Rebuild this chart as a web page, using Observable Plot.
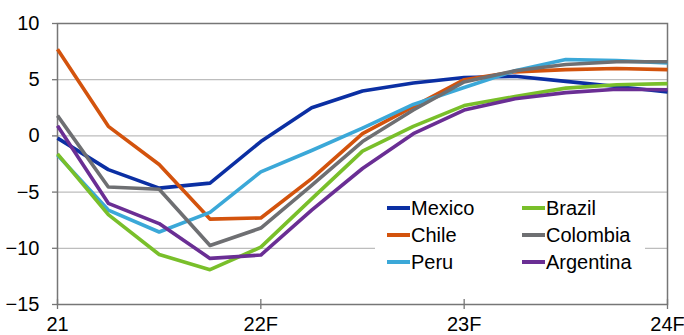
<!DOCTYPE html>
<html>
<head>
<meta charset="utf-8">
<script src="https://cdn.jsdelivr.net/npm/d3@7"></script>
<script src="https://cdn.jsdelivr.net/npm/@observablehq/plot@0.6"></script>
<style>
  html, body { margin: 0; padding: 0; background: #fff; }
  #wrap { position: relative; width: 684px; height: 335px; font-family: "Liberation Sans", Arial, sans-serif; color: #000; }
  #legend { position: absolute; left: 375px; top: 195px; width: 270px; height: 80px; background: #fff; }
  .item { position: absolute; display: flex; align-items: center; font-size: 20px; line-height: 20px; }
  .sw { width: 23px; height: 3.5px; margin-right: 1px; }
</style>
</head>
<body>
<div id="wrap"></div>
<script>
// Quarterly points from 21 to 24F (index 0..12)
const quarters = d3.range(0, 13);
const tickPositions = [0, 4, 8, 12];
const tickLabels = ["21", "22F", "23F", "24F"];
const yTicks = [-15, -10, -5, 0, 5, 10];

const series = ["Mexico", "Chile", "Peru", "Brazil", "Colombia", "Argentina"];
const colors = ["#0b2fa3", "#d3530d", "#3ba8d8", "#79bf2a", "#6e6f72", "#6a2e94"];

const mexico    = [-0.2, -3.0, -4.65, -4.2, -0.5, 2.5, 4.0, 4.7, 5.2, 5.3, 4.85, 4.4, 3.9];
const chile     = [7.7, 0.85, -2.55, -7.4, -7.3, -3.8, 0.2, 2.6, 5.0, 5.7, 5.9, 6.0, 5.9];
const peru      = [-1.7, -6.6, -8.55, -6.8, -3.2, -1.3, 0.7, 2.8, 4.3, 5.8, 6.8, 6.7, 6.5];
const brazil    = [-1.6, -7.0, -10.55, -11.9, -9.9, -5.6, -1.35, 0.85, 2.7, 3.5, 4.25, 4.55, 4.65];
const colombia  = [1.8, -4.55, -4.75, -9.75, -8.2, -4.4, -0.5, 2.3, 4.8, 5.8, 6.35, 6.6, 6.6];
const argentina = [0.9, -6.0, -7.8, -10.9, -10.6, -6.6, -2.9, 0.2, 2.3, 3.3, 3.85, 4.15, 4.1];

const values = [mexico, chile, peru, brazil, colombia, argentina];
const data = series.flatMap((name, i) => quarters.map((q, j) => ({name, q, v: values[i][j]})));

const plot = Plot.plot({
  width: 684,
  height: 335,
  marginLeft: 57,
  marginRight: 17,
  marginTop: 23,
  marginBottom: 31,
  style: {fontFamily: "'Liberation Sans', Arial, sans-serif", fontSize: "20px", color: "#000", background: "#fff"},
  x: {domain: [0, 12]},
  y: {domain: [-15, 10]},
  color: {domain: series, range: colors},
  marks: [
    Plot.gridY([-10, -5, 0, 5], {stroke: "#bdbdbd", strokeOpacity: 1, strokeWidth: 1.3}),
    Plot.frame({stroke: "#767676", strokeWidth: 1.5}),
    Plot.ruleX(tickPositions, {y1: -15, y2: -14.55, stroke: "#767676", strokeWidth: 1.3}),
    Plot.axisY(yTicks, {tickSize: 5, tickPadding: 13, stroke: "#767676", strokeWidth: 1.3, fill: "#000", fontSize: 20, label: null}),
    Plot.axisX(tickPositions, {tickSize: 5, tickPadding: 7, tickFormat: (d) => tickLabels[tickPositions.indexOf(d)], stroke: "#767676", strokeWidth: 1.3, fill: "#000", fontSize: 20, label: null}),
    Plot.line(data, {x: "q", y: "v", z: "name", stroke: "name", strokeWidth: 3.6, strokeLinejoin: "round", strokeLinecap: "butt"})
  ]
});

const wrap = document.getElementById("wrap");
wrap.appendChild(plot);

// Legend (two columns)
const legend = document.createElement("div");
legend.id = "legend";
const legendOrder = [["Mexico", "Brazil"], ["Chile", "Colombia"], ["Peru", "Argentina"]];
const colLeft = [12, 147];
const rowTop = [3, 30, 57];
legendOrder.forEach((row, r) => row.forEach((name, c) => {
  const it = document.createElement("div");
  it.className = "item";
  it.style.left = colLeft[c] + "px";
  it.style.top = rowTop[r] + "px";
  const sw = document.createElement("div");
  sw.className = "sw";
  sw.style.background = colors[series.indexOf(name)];
  const tx = document.createElement("span");
  tx.textContent = name;
  it.appendChild(sw);
  it.appendChild(tx);
  legend.appendChild(it);
}));
wrap.appendChild(legend);
</script>
</body>
</html>
